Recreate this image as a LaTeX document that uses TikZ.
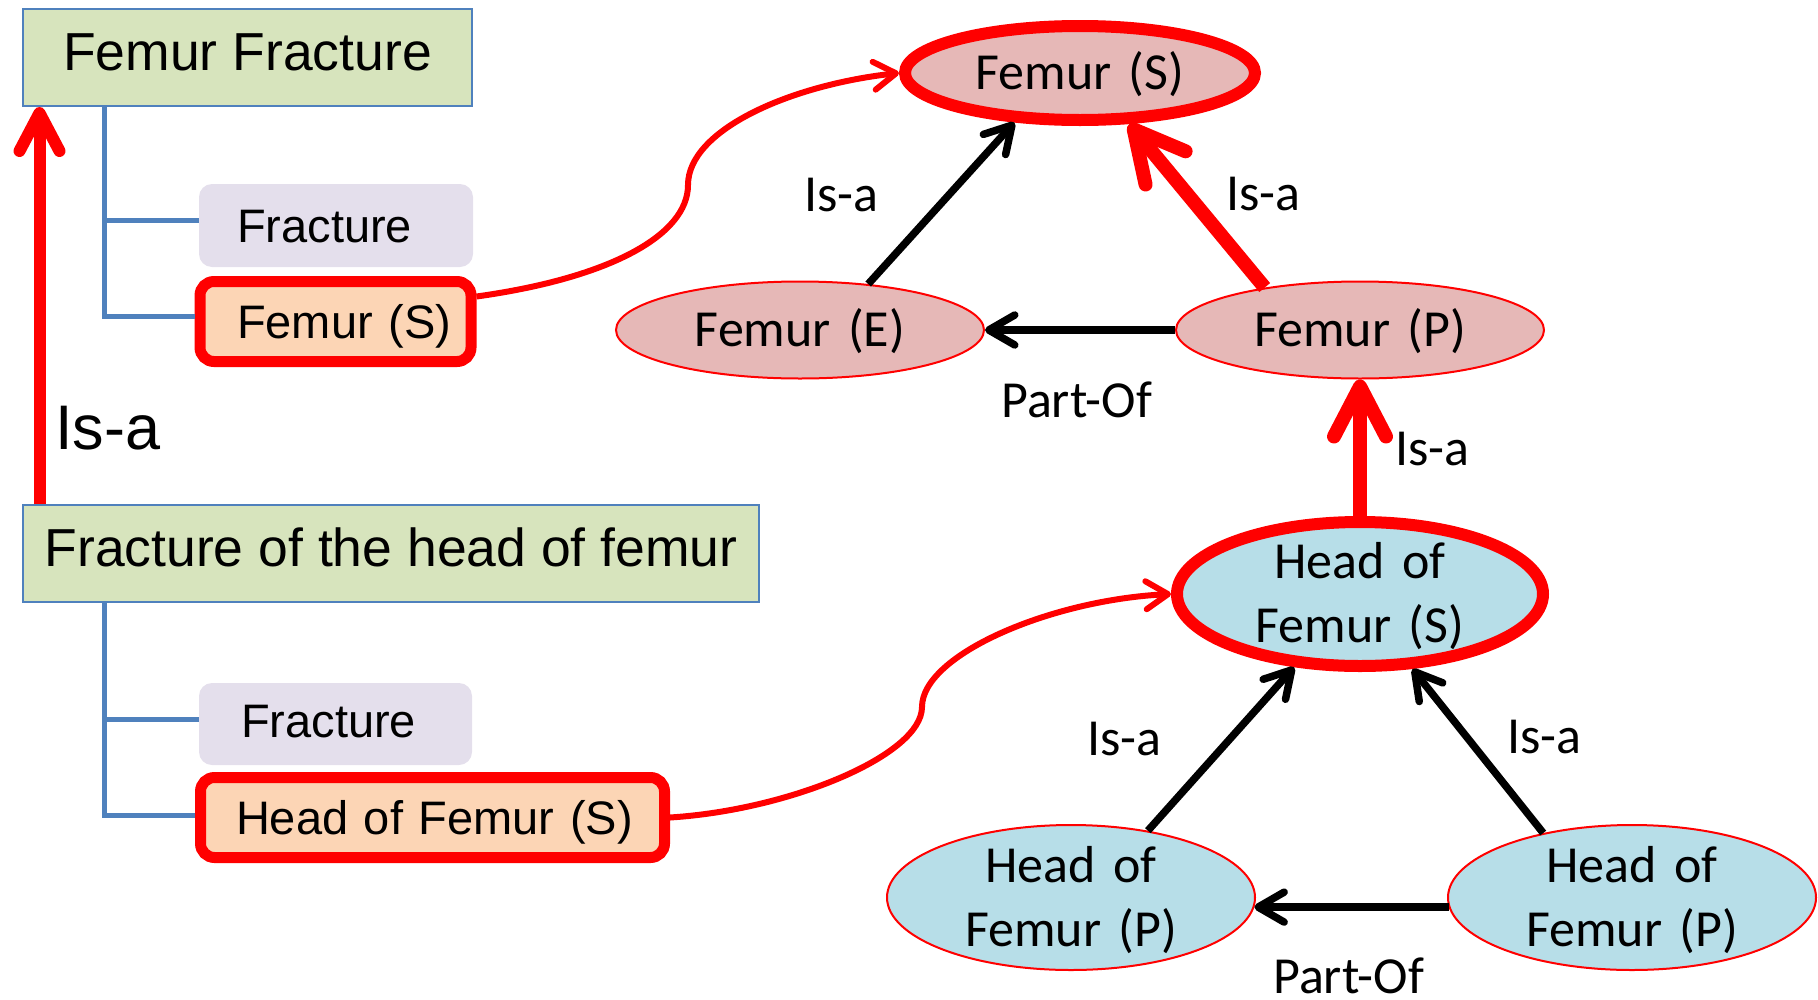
\documentclass[tikz,border=0pt]{standalone}
\usepackage{fontspec}
\setmainfont{Liberation Sans}
\newfontfamily\calfont{Carlito}
\usetikzlibrary{arrows.meta,shapes.geometric}

\definecolor{boxgreen}{HTML}{D7E4BD}
\definecolor{boxblue}{HTML}{4F81BD}
\definecolor{boxlav}{HTML}{E4DFEC}
\definecolor{boxpeach}{HTML}{FCD5B5}
\definecolor{ellpink}{HTML}{E6B8B7}
\definecolor{ellblue}{HTML}{B7DEE8}
\definecolor{pure red}{HTML}{FF0000}

\tikzset{
  titlebox/.style={draw=boxblue, line width=2pt, fill=boxgreen, inner sep=0pt,
    minimum height=97pt, font=\fontsize{53.5}{64}\selectfont,
    text height=39pt, text depth=13pt},
  subbox/.style={inner sep=0pt, align=left, font=\fontsize{47}{56}\selectfont,
    text height=34pt},
  plainbox/.style={subbox, fill=boxlav, rounded corners=13pt},
  markbox/.style={subbox, draw=pure red, line width=11pt, fill=boxpeach,
    rounded corners=14pt},
  treeline/.style={draw=boxblue, line width=5pt},
  concept/.style={ellipse, inner sep=0pt, align=center, text width=240pt,
    font=\calfont\fontsize{52}{64}\selectfont, text height=33.5pt},
  thinell/.style={concept, draw=pure red, line width=2pt},
  thickell/.style={concept, draw=pure red, line width=12pt},
  rel/.style={anchor=base west, inner sep=0pt, font=\calfont\fontsize{52}{64}\selectfont},
  blackarrow/.style={draw=black, line width=7.5pt,
    -{Straight Barb[length=26pt,width=30pt,round]}},
  redarrow/.style={draw=pure red, line width=14pt,
    -{Straight Barb[length=50pt,width=52pt,round]}},
  redleft/.style={draw=pure red, line width=12pt,
    -{Straight Barb[length=38pt,width=40pt,round]}},
  redcurve/.style={draw=pure red, line width=6pt,
    -{Straight Barb[length=22pt,width=28pt,round]}},
}

\begin{document}
\begin{tikzpicture}[x=1pt, y=-1pt]
  \useasboundingbox (0,0) rectangle (1818,999);

  % ---- left: the two fracture concepts and their parts ----
  \node[titlebox, minimum width=449pt] (ff) at (247.5,57.5) {Femur Fracture};
  \node[plainbox, text width=274pt, minimum height=83pt, text depth=0pt]
    (fr1) at (336,225.5) {\hspace*{38pt}Fracture};
  \node[markbox, text width=271pt, minimum height=80pt, text depth=0pt]
    (fs1) at (335.5,321.5) {\hspace*{37pt}Femur (S)};

  \node[titlebox, minimum width=736pt] (fb) at (391,553.5) {Fracture of the head of femur};
  \node[plainbox, text width=273pt, minimum height=82pt, text depth=8pt]
    (fr2) at (335.5,724) {\hspace*{42pt}Fracture};
  \node[markbox, text width=464pt, minimum height=80pt, text depth=0pt]
    (hs1) at (432.5,817.5) {\hspace*{35.5pt}Head of Femur (S)};

  \draw[treeline] ([xshift=82pt]ff.south west) |- ([yshift=5pt]fr1.west);
  \draw[treeline] ([xshift=82pt]ff.south west) |- ([yshift=5pt]fs1.west);
  \draw[treeline] ([xshift=82pt]fb.south west) |- ([yshift=5pt]fr2.west);
  \draw[treeline] ([xshift=82pt]fb.south west) |- ([yshift=2.5pt]hs1.west);

  \coordinate (lt) at ([xshift=17.5pt]fb.north west);
  \draw[redleft] (lt) -- (lt |- ff.south);
  \node[anchor=base west, inner sep=0pt, font=\fontsize{63}{72}\selectfont]
    (isaL) at (55,449) {Is-a};

  % ---- right: femur concepts ----
  \node[thickell, fill=ellpink, minimum width=350pt, minimum height=94pt, text depth=0pt]
    (fsS) at (1080,73) {Femur (S)};
  \node[thinell, fill=ellpink, minimum width=368pt, minimum height=97pt, text depth=0pt]
    (fe) at (800,330) {Femur (E)};
  \node[thinell, fill=ellpink, minimum width=368pt, minimum height=97pt, text depth=0pt]
    (fp) at (1360,330) {Femur (P)};

  \node[thickell, fill=ellblue, minimum width=366pt, minimum height=144pt, text depth=64pt]
    (hs) at (1360,594) {Head of\\Femur (S)};
  \node[thinell, fill=ellblue, minimum width=368pt, minimum height=145pt, text depth=64pt]
    (hpl) at (1071,897.5) {Head of\\Femur (P)};
  \node[thinell, fill=ellblue, minimum width=368pt, minimum height=145pt, text depth=64pt]
    (hpr) at (1632,897.5) {Head of\\Femur (P)};

  % relations between the concepts
  \draw[blackarrow] (fe.34) -- (fsS.217);
  \draw[redarrow] (fp.156) -- (fsS.314);
  \draw[blackarrow] (fp.west) -- (fe.east);
  \draw[redarrow] (hs.north) -- (fp.south);
  \draw[blackarrow] (hpl.41) -- (hs.228);
  \draw[blackarrow] (hpr.144) -- (hs.305);
  \draw[blackarrow] (hpr.183) -- (hpl.357);

  \node[rel] (isa1) at (804,211) {Is-a};
  \node[rel] (isa2) at (1226,210) {Is-a};
  \node[rel] (po1) at (1001,417) {Part-Of};
  \node[rel] (isa3) at (1395,465) {Is-a};
  \node[rel] (isa4) at (1087,755) {Is-a};
  \node[rel] (isa5) at (1507,753) {Is-a};
  \node[rel] (po2) at (1273,993) {Part-Of};

  % links from the fracture parts to the concepts
  \draw[redcurve] ([yshift=25pt]fs1.east) .. controls (610,278) and (688,235) .. (688,185)
    .. controls (688,130) and (790,85) .. (fsS.west);
  \draw[redcurve] (hs1.east) .. controls (790,810) and (922,755) .. (922,707)
    .. controls (922,655) and (1050,600) .. (hs.west);
\end{tikzpicture}
\end{document}
